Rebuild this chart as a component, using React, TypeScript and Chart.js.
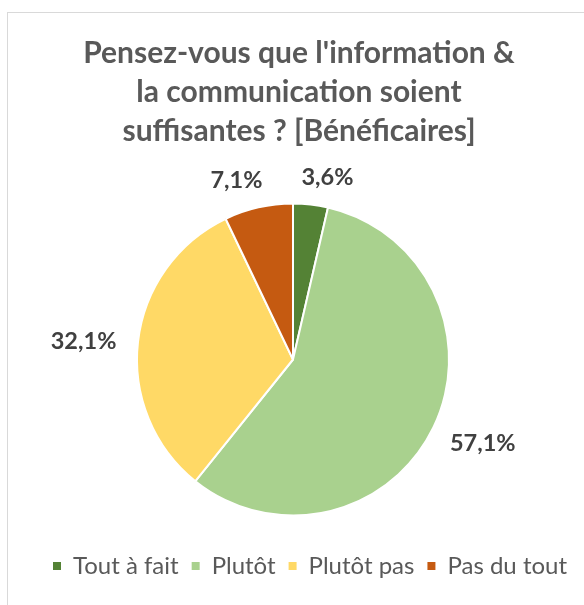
import React, { useEffect, useRef } from "react";
import { Chart, registerables } from "chart.js";

Chart.register(...registerables);

const categories = ["Tout à fait", "Plutôt", "Plutôt pas", "Pas du tout"];
const percentages = [3.6, 57.1, 32.1, 7.1];
const sliceColors = ["#548235", "#A9D18E", "#FFD966", "#C55A11"];
const titleLines = [
  "Pensez-vous que l'information &",
  "la communication soient",
  "suffisantes ? [Bénéficaires]",
];

const FONT = "Lato";
const TITLE_SIZE = 30;
const LABEL_SIZE = 23.5;
const LEGEND_SIZE = 24;
const TITLE_SHIFT = 6;
const LEGEND_SHIFT = 17;

const fmt = (v: number) => v.toFixed(1).replace(".", ",") + "%";

const shiftPlugin = {
  id: "shiftBlocks",
  afterLayout(chart: any) {
    const t = chart.titleBlock;
    if (t) {
      t.left += TITLE_SHIFT;
      t.right += TITLE_SHIFT;
    }
    const l = chart.legend;
    if (l) {
      l.left += LEGEND_SHIFT;
      l.right += LEGEND_SHIFT;
    }
  },
};

const labelPlugin = {
  id: "outsideLabels",
  afterDatasetsDraw(chart: any) {
    const meta = chart.getDatasetMeta(0);
    const ctx = chart.ctx;
    ctx.save();
    ctx.font = `bold ${LABEL_SIZE}px ${FONT}`;
    const capH = LABEL_SIZE * 0.72;
    const gap = 22;
    const minGap = 39;
    const dy = 2;
    const items = meta.data.map((arc: any, i: number) => {
      const p = arc.getProps(["x", "y", "startAngle", "endAngle", "outerRadius"], true);
      const mid = (p.startAngle + p.endAngle) / 2;
      const text = fmt(percentages[i]);
      const w = ctx.measureText(text).width;
      const r = p.outerRadius + gap;
      const ax = p.x + Math.cos(mid) * r;
      const ay = p.y + Math.sin(mid) * r;
      return { text, w, cx: ax + (Math.cos(mid) * w) / 2, cy: ay + (Math.sin(mid) * capH) / 2 };
    });
    for (let i = 0; i < items.length; i++) {
      for (let j = i + 1; j < items.length; j++) {
        const a = items[i];
        const b = items[j];
        if (Math.abs(a.cy - b.cy) < capH * 1.5) {
          const g = Math.abs(a.cx - b.cx) - (a.w + b.w) / 2;
          if (g < minGap) {
            const push = (minGap - g) / 2;
            const dir = a.cx < b.cx ? -1 : 1;
            a.cx += dir * push;
            b.cx -= dir * push;
          }
        }
      }
    }
    ctx.fillStyle = "#404040";
    ctx.textAlign = "center";
    ctx.textBaseline = "alphabetic";
    items.forEach((it: any) => ctx.fillText(it.text, it.cx, it.cy + capH / 2 + dy));
    ctx.restore();
  },
};

export default function App() {
  const ref = useRef<HTMLCanvasElement | null>(null);
  useEffect(() => {
    if (!ref.current) return;
    const chart = new Chart(ref.current, {
      type: "doughnut",
      data: {
        labels: categories,
        datasets: [
          {
            data: percentages,
            backgroundColor: sliceColors,
            borderColor: "#ffffff",
            borderWidth: 2,
            hoverOffset: 0,
            radius: 156,
          } as any,
        ],
      },
      options: {
        responsive: false,
        animation: false,
        cutout: 0,
        layout: { padding: { left: 2, right: 0, top: 0, bottom: 17 } },
        plugins: {
          tooltip: { enabled: false },
          title: {
            display: true,
            text: titleLines,
            color: "#595959",
            font: { family: FONT, size: TITLE_SIZE, weight: "bold", lineHeight: "39px" } as any,
            padding: { top: 34, bottom: 27 },
          },
          legend: {
            display: true,
            position: "bottom",
            labels: {
              color: "#595959",
              font: { family: FONT, size: LEGEND_SIZE },
              boxWidth: 8,
              boxHeight: 8,
              padding: 13,
              generateLabels: (c: any) =>
                (Chart as any).overrides.doughnut.plugins.legend.labels
                  .generateLabels(c)
                  .map((it: any) => ({ ...it, lineWidth: 0, strokeStyle: it.fillStyle })),
            },
          },
        },
      } as any,
      plugins: [shiftPlugin, labelPlugin],
    });
    return () => chart.destroy();
  }, []);
  return (
    <div style={{ position: "absolute", left: 0, top: 0, width: 584, height: 605, overflow: "hidden", background: "#fff" }}>
      <div
        style={{
          position: "absolute",
          left: 7,
          top: 12,
          width: 620,
          height: 640,
          borderLeft: "1px solid #d9d9d9",
          borderTop: "1px solid #d9d9d9",
        }}
      />
      <canvas ref={ref} width={584} height={605} style={{ position: "absolute", left: 0, top: 0 }} />
    </div>
  );
}
